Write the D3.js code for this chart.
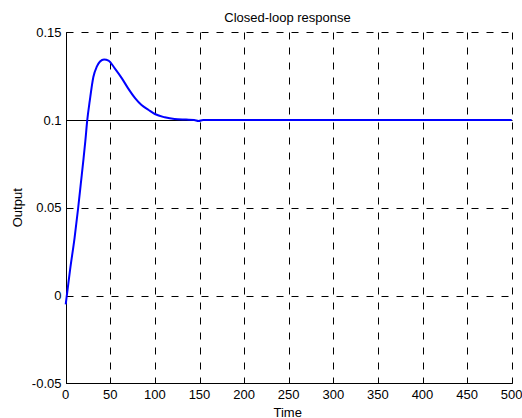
<!DOCTYPE html>
<html><head><meta charset="utf-8">
<script src="https://cdn.jsdelivr.net/npm/d3@7"></script>
<style>body{margin:0;background:#fff}svg{display:block}text{font-family:"Liberation Sans",Arial,sans-serif}</style>
</head><body>
<script>
const timeVals = [0, 2, 5, 10, 14, 17, 20, 22, 24.2, 27, 31, 35, 38.5, 43, 48, 55, 63, 70, 78, 85, 93, 100, 111, 122, 135, 144, 149, 154, 170, 300, 500];
const outputVals = [-0.005, 0.003, 0.015, 0.033, 0.05, 0.064, 0.078, 0.088, 0.1, 0.111, 0.1245, 0.1305, 0.1333, 0.1345, 0.1338, 0.1294, 0.1237, 0.118, 0.1123, 0.1085, 0.1057, 0.1034, 0.1015, 0.1005, 0.1002, 0.1, 0.0994, 0.1, 0.1, 0.1, 0.1];
const xTicks = [0, 50, 100, 150, 200, 250, 300, 350, 400, 450, 500];
const yTicks = [-0.05, 0, 0.05, 0.1, 0.15];
const yTickLabels = ["-0.05", "0", "0.05", "0.1", "0.15"];
const refLevel = [0.1];
const titleText = "Closed-loop response";
const xLabel = "Time";
const yLabel = "Output";

const W = 522, H = 418;
const L = 65.7, R = 511.7, T = 32.2, B = 383.3;
const FS = 13;
const svg = d3.select("body").append("svg").attr("width", W).attr("height", H);
const x = d3.scaleLinear().domain([0, 500]).range([L, R]);
const y = d3.scaleLinear().domain([-0.05, 0.15]).range([B, T]);
const snap = v => Math.round(v) + 0.5;

const g = svg.append("g");
// grid
g.selectAll(".vg").data(xTicks).join("line")
  .attr("x1", d => snap(x(d))).attr("x2", d => snap(x(d)))
  .attr("y1", snap(T)).attr("y2", snap(B))
  .attr("stroke", "#000").attr("stroke-width", 1).attr("stroke-dasharray", "7,8");
g.selectAll(".hg").data(yTicks).join("line")
  .attr("y1", d => snap(y(d))).attr("y2", d => snap(y(d)))
  .attr("x1", snap(L)).attr("x2", snap(R))
  .attr("stroke", "#000").attr("stroke-width", 1).attr("stroke-dasharray", "7,8");
// axes (left + bottom solid)
g.append("line").attr("x1", snap(L)).attr("x2", snap(L)).attr("y1", snap(T)).attr("y2", snap(B)).attr("stroke", "#000");
g.append("line").attr("x1", snap(L)).attr("x2", snap(R)).attr("y1", snap(B)).attr("y2", snap(B)).attr("stroke", "#000");
// reference line
g.selectAll(".ref").data(refLevel).join("line")
  .attr("x1", snap(L)).attr("x2", snap(R))
  .attr("y1", d => snap(y(d))).attr("y2", d => snap(y(d)))
  .attr("stroke", "#000").attr("stroke-width", 1);
// ticks inward
g.selectAll(".xt").data(xTicks).join("line")
  .attr("x1", d => snap(x(d))).attr("x2", d => snap(x(d)))
  .attr("y1", snap(B)).attr("y2", snap(B) - 5).attr("stroke", "#000");
g.selectAll(".yt").data(yTicks).join("line")
  .attr("y1", d => snap(y(d))).attr("y2", d => snap(y(d)))
  .attr("x1", snap(L)).attr("x2", snap(L) + 5).attr("stroke", "#000");

// tick labels
g.selectAll(".xl").data(xTicks).join("text")
  .attr("x", d => x(d)).attr("y", 398.5).attr("text-anchor", "middle")
  .attr("font-size", FS).text(d => String(d));
g.selectAll(".yl").data(yTicks).join("text")
  .attr("x", 61.5).attr("y", d => y(d) + 4.6).attr("text-anchor", "end")
  .attr("font-size", FS).text((d, i) => yTickLabels[i]);

// curve
const pts = timeVals.map((t, i) => [t, outputVals[i]]);
g.append("path").datum(pts)
  .attr("fill", "none").attr("stroke", "#0000ff").attr("stroke-width", 2)
  .attr("stroke-linejoin", "round")
  .attr("d", d3.line().x(d => x(d[0])).y(d => y(d[1])).curve(d3.curveMonotoneX));

// labels
svg.append("text").attr("x", 287.5).attr("y", 21.5).attr("text-anchor", "middle")
  .attr("font-size", FS).text(titleText);
svg.append("text").attr("x", 287.7).attr("y", 416.5).attr("text-anchor", "middle")
  .attr("font-size", FS).text(xLabel);
svg.append("text").attr("transform", `translate(21.5,${(T + B) / 2}) rotate(-90)`)
  .attr("text-anchor", "middle").attr("font-size", FS).text(yLabel);
</script>
</body></html>
